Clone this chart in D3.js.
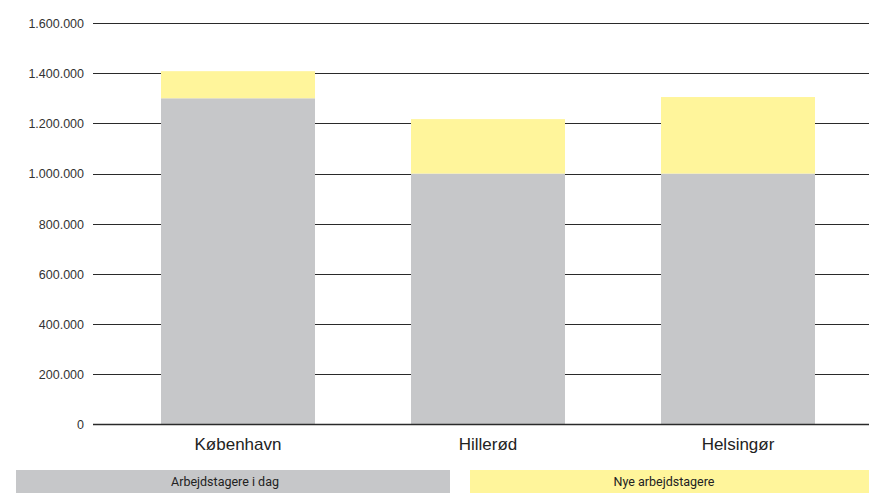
<!DOCTYPE html>
<html>
<head>
<meta charset="utf-8">
<script src="https://cdn.jsdelivr.net/npm/d3@7"></script>
<style>
  html, body { margin: 0; padding: 0; background: #fff; }
  svg { display: block; font-family: Roboto, "DejaVu Sans", sans-serif; }
</style>
</head>
<body>
<svg id="chart" width="869" height="493"></svg>
<script>
// Arbejdstagere per by
const categories = ["København", "Hillerød", "Helsingør"];
const workersToday = [1300000, 1000000, 1000000];
const newWorkers = [108000, 217000, 305000];
const seriesNames = ["Arbejdstagere i dag", "Nye arbejdstagere"];
const seriesColors = ["#c6c7c9", "#fff59b"];
const yTicks = [0, 200000, 400000, 600000, 800000, 1000000, 1200000, 1400000, 1600000];

const svg = d3.select("#chart");
const W = 869;

const y = d3.scaleLinear().domain([0, 1600000]).range([424.5, 23]);
const x = d3.scaleBand().domain(categories).range([113, 863]).paddingInner(0.384).paddingOuter(0.192);

const fmt = v => v === 0 ? "0" : d3.format(",")(v).replace(/,/g, ".");

// Gridlines and tick labels
const yAxis = d3.axisLeft(y).tickValues(yTicks).tickFormat(fmt).tickSize(0).tickPadding(0);
const gAxis = svg.append("g").attr("transform", "translate(84,0)").call(yAxis);
gAxis.select(".domain").remove();
gAxis.selectAll("text")
  .attr("fill", "#333")
  .style("font-size", "12.5px")
  .attr("dy", "0.35em");

svg.append("g").selectAll("line")
  .data(yTicks.filter(d => d !== 0))
  .join("line")
  .attr("x1", 93).attr("x2", W)
  .attr("y1", d => Math.round(y(d)) + 0.5).attr("y2", d => Math.round(y(d)) + 0.5)
  .attr("stroke", "#2a2a2a").attr("stroke-width", 1);

// Stacked bars
const rows = categories.map((c, i) => ({ cat: c, a: workersToday[i], b: newWorkers[i] }));
const stack = d3.stack().keys(["a", "b"])(rows);
svg.append("g").selectAll("g")
  .data(stack)
  .join("g")
  .attr("fill", (d, i) => seriesColors[i])
  .selectAll("rect")
  .data(d => d)
  .join("rect")
  .attr("x", d => x(d.data.cat))
  .attr("width", x.bandwidth())
  .attr("y", d => y(d[1]))
  .attr("height", d => y(d[0]) - y(d[1]));

// Baseline
svg.append("line")
  .attr("x1", 93).attr("x2", W)
  .attr("y1", y(0)).attr("y2", y(0))
  .attr("stroke", "#2a2a2a").attr("stroke-width", 1.5);

// Category labels
const xAxis = d3.axisBottom(x).tickSize(0).tickPadding(0);
const gx = svg.append("g").attr("transform", "translate(0,437)").call(xAxis);
gx.select(".domain").remove();
gx.selectAll("text")
  .attr("fill", "#222")
  .style("font-size", "17px")
  .attr("dy", "0.75em");

// Legend
const legend = [
  { x0: 16, x1: 450, tx: 225 },
  { x0: 470, x1: 869, tx: 664 }
];
legend.forEach((l, i) => {
  svg.append("rect")
    .attr("x", l.x0).attr("y", 470)
    .attr("width", l.x1 - l.x0).attr("height", 23)
    .attr("fill", seriesColors[i]);
  svg.append("text")
    .attr("x", l.tx).attr("y", 482)
    .attr("dy", "0.35em")
    .attr("text-anchor", "middle")
    .attr("fill", "#222")
    .style("font-size", "12.5px")
    .text(seriesNames[i]);
});
</script>
</body>
</html>
